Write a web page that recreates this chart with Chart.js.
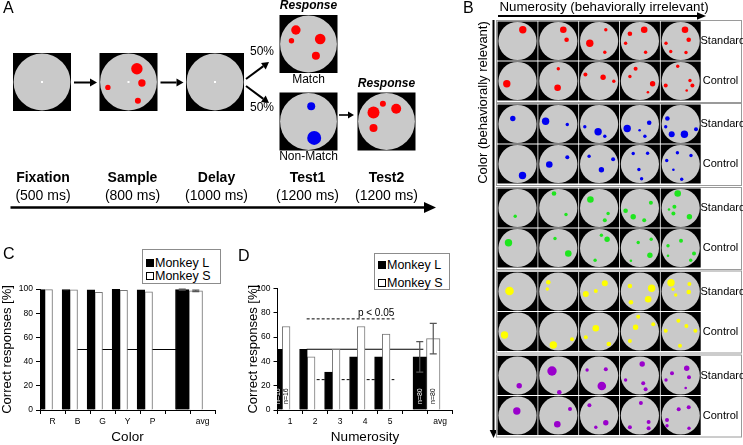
<!DOCTYPE html>
<html>
<head>
<meta charset="utf-8">
<script src="https://cdn.jsdelivr.net/npm/chart.js@4.4.1/dist/chart.umd.min.js"></script>
<style>
    body { margin: 0; background: #fff; font-family: "Liberation Sans", Arial, sans-serif; }
    #wrap { position: relative; width: 743px; height: 445px; overflow: hidden; background: #fff; }
    canvas { position: absolute; }
    .legend { position: absolute; border: 1px solid #8c8c8c; background: #fff; font-size: 12.5px; color: #000; box-sizing: border-box; }
    .legend div { position: absolute; left: 3px; white-space: nowrap; line-height: 14px; }
    .legend i { display: inline-block; width: 6px; height: 6px; border: 1px solid #000; margin-right: 1px; }
</style>
</head>
<body>
<div id="wrap">
    <canvas id="diagram" width="743" height="445" style="left:0;top:0"></canvas>
    <canvas id="chartC" width="240" height="205" style="left:0;top:240px"></canvas>
    <canvas id="chartD" width="234" height="205" style="left:246px;top:240px"></canvas>
    <div class="legend" id="legC" style="left:142px;top:249px;width:79px;height:35px"></div>
    <div class="legend" id="legD" style="left:374px;top:253px;width:76px;height:37px"></div>
</div>
<script>
// --- chart data (panels C and D) ---
const colorCats = ['R', 'B', 'G', 'Y', 'P', '', 'avg'];
const numCats = ['1', '2', '3', '4', '5', '', 'avg'];
const seriesNames = ['Monkey L', 'Monkey S'];
const colorL = [99.5, 99.6, 99.3, 99.8, 99.4, null, 99.5];
const colorS = [99.5, 99.4, 97.2, 98.9, 97.6, null, 98.5];
const colorAvgErr = [0.4, 0.6];
const numL = [50, 50, 31.25, 43.75, 43.75, null, 43.75];
const numS = [68.75, 43.75, 50, 68.75, 62.5, null, 58.75];
const numAvgErr = [12.5, 12.5];
const numTrials = ['n=16', '', '', '', '', '', 'n=80'];
const chanceLevel = 50;
const critHigh = 75, critLow = 25, critEnd = 4.76;
const critLabel = 'p < 0.05';
const yTitle = 'Correct responses [%]';

const FONT = '"Liberation Sans", Arial, sans-serif';
Chart.defaults.font.family = FONT;
Chart.defaults.color = '#000';

function hline(y, from, to, dash) {
    return {
        type: 'line', xAxisID: 'x2', data: [{ x: from, y }, { x: to, y }],
        borderColor: '#000', borderWidth: 1, borderDash: dash, pointRadius: 0, order: 2
    };
}

function buildChart(id, cfg) {
    const avg = cfg.cats.indexOf('avg');
    const split = (arr, wantAvg) => arr.map((v, i) => ((i === avg) === wantAvg ? v : null));
    const bar = (k, data, thick) => ({
        type: 'bar', label: seriesNames[k], data, order: 1, skipNull: true, barThickness: thick,
        backgroundColor: k === 0 ? '#000' : '#fff', borderColor: k === 0 ? '#000' : '#777', borderWidth: 1
    });
    const datasets = [
        bar(0, split(cfg.L, false), 7.7), bar(1, split(cfg.S, false), 7.7),
        bar(0, split(cfg.L, true), 13.5), bar(1, split(cfg.S, true), 13.5)
    ].concat(cfg.lines);

    const extras = {
        id: 'extras',
        afterDatasetsDraw(chart) {
            const ctx = chart.ctx, ys = chart.scales.y;
            ctx.save();
            // error bars on the averages
            ctx.strokeStyle = '#555';
            ctx.lineWidth = 1.2;
            cfg.err.forEach((e, k) => {
                const el = chart.getDatasetMeta(2 + k).data[avg];
                const v = chart.data.datasets[2 + k].data[avg];
                const y1 = ys.getPixelForValue(v + e), y2 = ys.getPixelForValue(v - e);
                ctx.beginPath();
                ctx.moveTo(el.x, y1); ctx.lineTo(el.x, y2);
                ctx.moveTo(el.x - 3.5, y1); ctx.lineTo(el.x + 3.5, y1);
                ctx.moveTo(el.x - 3.5, y2); ctx.lineTo(el.x + 3.5, y2);
                ctx.stroke();
            });
            // trial counts inside the bars
            if (cfg.nLabels) {
                ctx.font = '7px ' + FONT;
                ctx.textAlign = 'left';
                ctx.textBaseline = 'middle';
                cfg.nLabels.forEach((t, i) => {
                    if (!t) return;
                    [0, 1].forEach(k => {
                        const el = chart.getDatasetMeta(i === avg ? 2 + k : k).data[i];
                        ctx.save();
                        ctx.translate(el.x, ys.getPixelForValue(0) - 6);
                        ctx.rotate(-Math.PI / 2);
                        ctx.fillStyle = k === 0 ? '#fff' : '#000';
                        ctx.fillText(t, 0, 0);
                        ctx.restore();
                    });
                });
            }
            if (cfg.critText) {
                ctx.font = '10px ' + FONT;
                ctx.fillStyle = '#000';
                ctx.textAlign = 'right';
                ctx.textBaseline = 'bottom';
                ctx.fillText(cfg.critText, chart.scales.x2.getPixelForValue(critEnd), ys.getPixelForValue(critHigh) - 1);
            }
            ctx.restore();
        }
    };

    return new Chart(document.getElementById(id), {
        type: 'bar',
        data: { labels: cfg.cats, datasets },
        options: {
            responsive: false,
            animation: false,
            devicePixelRatio: 1,
            layout: { padding: { top: cfg.padTop, right: cfg.padRight, bottom: 0, left: 0 } },
            plugins: { legend: { display: false }, tooltip: { enabled: false } },
            scales: {
                x: {
                    type: 'category', offset: true,
                    grid: { offset: true, drawOnChartArea: false, drawTicks: true, tickLength: 4, color: '#000' },
                    border: { color: '#000', width: 1 },
                    ticks: { font: { size: 8.5 }, padding: 3, maxRotation: 0, autoSkip: false, color: '#000' },
                    title: { display: true, text: cfg.xTitle, font: { size: 13.5 }, padding: 0, color: '#000' },
                    afterFit: s => { s.height = 35; }
                },
                x2: { type: 'linear', display: false, min: -0.5, max: cfg.cats.length - 0.5 },
                y: {
                    min: 0, max: 100,
                    grid: { drawOnChartArea: false, drawTicks: true, tickLength: 4, color: '#000' },
                    border: { color: '#000', width: 1 },
                    ticks: { stepSize: 10, font: { size: 8.5 }, padding: 3, color: '#000' },
                    title: { display: true, text: yTitle, font: { size: 13 }, padding: 0, color: '#000' },
                    afterFit: s => { s.width = cfg.yWidth; }
                }
            }
        },
        plugins: [extras]
    });
}

buildChart('chartC', {
    cats: colorCats, L: colorL, S: colorS, err: colorAvgErr, xTitle: 'Color',
    padTop: 49, padRight: 25, yWidth: 40,
    lines: [hline(chanceLevel, -0.5, 6.5, [])]
});
buildChart('chartD', {
    cats: numCats, L: numL, S: numS, err: numAvgErr, xTitle: 'Numerosity',
    padTop: 48.5, padRight: 27.5, yWidth: 31.5, nLabels: numTrials, critText: critLabel,
    lines: [hline(chanceLevel, -0.5, 6.5, []), hline(critHigh, -0.5, critEnd, [3, 2]), hline(critLow, -0.5, critEnd, [3, 2])]
});

function legend(id, tops) {
    const el = document.getElementById(id);
    seriesNames.forEach((n, k) => {
        const row = document.createElement('div');
        row.style.top = tops[k] + 'px';
        row.innerHTML = '<i style="background:' + (k === 0 ? '#000' : '#fff') + '"></i>' + n;
        el.appendChild(row);
    });
}
legend('legC', [5.5, 19]);
legend('legD', [4, 21.5]);

// --- task diagram (panel A) and stimulus set (panel B) ---
const g = document.getElementById('diagram').getContext('2d');
const GRAY = '#c9c9c9';

function txt(s, x, y, font, align, rot) {
    g.save();
    g.font = font + ' ' + FONT;
    g.fillStyle = '#000';
    g.textAlign = align || 'center';
    g.textBaseline = 'middle';
    g.translate(x, y);
    if (rot) g.rotate(rot);
    g.fillText(s, 0, 0);
    g.restore();
}

function arrow(x1, y1, x2, y2, lw, hl, hw) {
    const a = Math.atan2(y2 - y1, x2 - x1), c = Math.cos(a), s = Math.sin(a);
    g.strokeStyle = '#000'; g.fillStyle = '#000'; g.lineWidth = lw;
    g.beginPath(); g.moveTo(x1, y1); g.lineTo(x2 - hl * c, y2 - hl * s); g.stroke();
    g.beginPath(); g.moveTo(x2, y2);
    g.lineTo(x2 - hl * c + hw * s, y2 - hl * s - hw * c);
    g.lineTo(x2 - hl * c - hw * s, y2 - hl * s + hw * c);
    g.closePath(); g.fill();
}

function stim(x, y, w, h, dots, col, fix) {
    g.fillStyle = '#000'; g.fillRect(x, y, w, h);
    g.fillStyle = GRAY; g.beginPath(); g.arc(x + w / 2, y + h / 2, Math.min(w, h) * 0.49, 0, 2 * Math.PI); g.fill();
    g.fillStyle = col;
    dots.forEach(([dx, dy, r]) => { g.beginPath(); g.arc(x + dx, y + dy, r, 0, 2 * Math.PI); g.fill(); });
    if (fix) { g.fillStyle = '#fff'; g.fillRect(x + w / 2 - 1, y + h / 2 - 1, 2, 2); }
}

// panel A
txt('A', 3, 9, '16px', 'left');
stim(13, 53, 58, 58, [], GRAY, true);
stim(99.5, 53, 58, 58, [[37.4, 15.7, 5.7], [42.4, 30, 3.7], [8.4, 34.4, 2.7], [38.4, 47.7, 3]], '#f00', true);
stim(186, 53, 58, 58, [], GRAY, true);
stim(279.5, 15, 58, 58, [[16.4, 15, 4.7], [12, 25.7, 2.7], [40.7, 24, 5.3], [36.4, 40.7, 4]], '#f00');
stim(279.5, 92.5, 58, 58, [[31.7, 13.7, 4], [34.7, 45.4, 7]], '#0000f0');
stim(357.5, 92.5, 58, 58, [[16, 20, 6], [25.4, 11.3, 3], [38.7, 16.3, 5], [16, 35.6, 4]], '#f00');
arrow(74, 82.5, 97, 82.5, 2, 7, 4);
arrow(160.5, 82.5, 183.5, 82.5, 2, 7, 4);
arrow(246, 79, 269, 62, 2, 7, 4);
arrow(246, 86, 269, 103, 2, 7, 4);
arrow(339, 115, 354, 115, 1.6, 6, 3.5);
txt('50%', 274, 52, '12px', 'right');
txt('50%', 274, 108, '12px', 'right');
txt('Response', 308.5, 6, 'italic bold 12px');
txt('Match', 308.5, 80, '12px');
txt('Non-Match', 308.5, 157, '12px');
txt('Response', 386.5, 84, 'italic bold 12px');
[['Fixation', '(500 ms)', 43], ['Sample', '(800 ms)', 132.5], ['Delay', '(1000 ms)', 216.5],
 ['Test1', '(1200 ms)', 307.5], ['Test2', '(1200 ms)', 386.5]].forEach(([a, b, x]) => {
    txt(a, x, 178, 'bold 14px');
    txt(b, x, 196, '14px');
});
arrow(10.5, 207.5, 436, 207.5, 2.5, 12, 5.5);

// panel B
txt('B', 463, 9, '16px', 'left');
txt('Numerosity (behaviorally irrelevant)', 604, 7.5, '13.3px');
arrow(498, 16, 706, 16, 2, 9, 3.8);
txt('Color (behaviorally relevant)', 483, 102.5, '13px', 'center', -Math.PI / 2);
arrow(493.5, 20, 493.5, 438, 2, 8, 3.8);

const stimColors = ['#f00', '#0000f0', '#1ee61e', '#ffff00', '#9a00cc'];
// dot layouts per color group: [standard row, control row], 5 numerosities each; [x, y, r] in a 40x39 cell
const stimSets = [
    [[[[25.3, 8.3, 3.7]], [[25, 8.3, 3.3], [28.3, 18.3, 2.3]], [[26.7, 8.3, 1.7], [10.7, 21.7, 3.7], [25.7, 30.7, 1.7]],
      [[10, 12.3, 2.3], [24.3, 8.3, 3.3], [5.7, 21.7, 1.7], [25.7, 30.7, 1.7]],
      [[24.3, 8.3, 3.3], [28, 18.3, 2.3], [5.3, 21.7, 1.7], [10, 30, 1.7], [25.3, 31, 1.7]]],
     [[[9.3, 22.3, 3.7]], [[20, 7.3, 1.7], [19.3, 26.3, 3.3]], [[6.3, 13, 2], [24, 15.7, 2.7], [34.7, 19.7, 1.7]],
      [[15.7, 7.3, 2], [10, 15, 1.7], [32.7, 22.3, 2.7], [28, 30.7, 1.3]],
      [[17, 4.7, 1.7], [29.3, 19, 1.7], [31.7, 24, 2], [5, 24, 2], [26, 29, 1.3]]]],
    [[[[15.3, 14, 2.7]], [[7.3, 16.7, 3.7], [29, 20, 1.7]], [[5.7, 22.3, 1.7], [19, 27.3, 3.7], [25.7, 31.7, 1.7]],
      [[7.3, 24, 3.7], [19.7, 25.7, 1.3], [29.3, 18.3, 2.3], [25, 31.7, 1.7]],
      [[6.7, 14, 2.3], [5, 22.3, 1.7], [11, 29.7, 3], [23.7, 29.7, 3.7], [35.3, 24.7, 2]]],
     [[[25, 31, 3.7]], [[11, 20, 3.3], [29, 12.7, 2]], [[10, 11.7, 1.7], [34, 14.7, 2], [22.3, 25.3, 2.7]],
      [[13.3, 9, 1.7], [27.7, 8.7, 1.7], [19, 25, 1.7], [21.7, 34.3, 1.7]],
      [[16.7, 8.3, 1.7], [30.3, 11, 1.7], [6, 16, 1.7], [12.7, 25.3, 1.3], [21, 34.7, 1.7]]]],
    [[[[17.7, 27.7, 1.7]], [[15.7, 5, 2.3], [27.7, 26, 1.7]], [[11.3, 11, 3.3], [29, 25, 1.7], [25.7, 31.7, 2]],
      [[31, 14.3, 2], [5.7, 22.3, 2.3], [13.3, 28.3, 2.7], [24.3, 31.7, 2]],
      [[17, 5, 3.3], [13.7, 18.3, 2], [8.3, 21, 1.3], [12.7, 25, 2], [28.7, 28.3, 2.7]]],
     [[[11, 14.3, 3.7]], [[16.7, 10, 1.7], [30, 25, 3.3]], [[22.3, 6.7, 1.7], [28, 10.7, 2.7], [16, 31.7, 1.7]],
      [[18.3, 14, 1.7], [31.3, 10.7, 1.7], [30, 26.7, 2.7], [11, 32.3, 1.3]],
      [[7.3, 17.3, 1.7], [20.3, 12.3, 2], [7.3, 27.3, 1.3], [33.3, 25, 2], [30, 31.7, 1.7]]]],
    [[[[12, 19, 4.3]], [[10, 10.3, 2.3], [9, 17, 1.7]], [[25.7, 11.3, 3], [16.7, 19, 2], [6.7, 22, 3]],
      [[10, 14, 2.3], [31.7, 16.3, 3.7], [28.3, 27.3, 3.3], [11, 30.3, 2.3]],
      [[10.3, 10.7, 3.7], [28.7, 12, 2], [12.3, 17.3, 1.7], [28, 20, 2.3], [15, 23, 1.7]]],
     [[[7, 23, 3.7]], [[15, 33, 3.7], [33.7, 27.3, 2]], [[16.7, 16.3, 3.3], [6.7, 25.3, 2], [29.7, 32, 2.3]],
      [[18.3, 4.7, 2], [15.7, 15.3, 2.7], [33.3, 12.3, 2], [10, 29, 2]],
      [[17.7, 8.7, 2], [25.7, 14, 2], [5, 18.7, 2], [34.7, 18.7, 2], [19.3, 33.7, 2]]]],
    [[[[21.7, 29.7, 2.7]], [[13.7, 15, 4.7], [21, 36.3, 2.3]], [[8, 14, 1.7], [26.7, 13.3, 2], [22.7, 30, 4.3]],
      [[22.3, 8, 2.7], [5.7, 24, 1.7], [23.3, 27.3, 2], [25.7, 33.3, 2]],
      [[26, 12.3, 2.7], [11.3, 17.3, 2], [28.3, 21.3, 2], [5.3, 24, 1.7], [25, 32, 1.3]]],
     [[[19.3, 15, 3.7]], [[31.7, 13, 2], [19, 28.3, 3.3]], [[10.3, 9.3, 2], [26.7, 26.7, 2.7], [16.7, 31.3, 1.7]],
      [[21, 7, 2], [28.7, 26, 2], [10, 31.3, 2], [28.7, 32.3, 2]],
      [[18, 13.3, 2], [28, 11.3, 2], [6.3, 24, 2], [6.3, 29.7, 1.7], [28.3, 32.3, 1.7]]]]
];
const groupTops = [20.5, 103.5, 187.5, 271, 355];
stimSets.forEach((rows, gi) => {
    const top = groupTops[gi];
    g.strokeStyle = '#9a9a9a'; g.lineWidth = 1;
    g.strokeRect(496.5, top, 245, 82);
    rows.forEach((cells, r) => {
        const y = top + 1 + r * 40;
        cells.forEach((dots, k) => stim(497.5 + k * 40.8, y, 40, 39, dots, stimColors[gi]));
        txt(r === 0 ? 'Standard' : 'Control', r === 0 ? 700.5 : 720.5, y + 19.5, '11px', r === 0 ? 'left' : 'center');
    });
});
txt('C', 3, 255, '16px', 'left');
txt('D', 238, 257, '16px', 'left');
</script>
</body>
</html>
